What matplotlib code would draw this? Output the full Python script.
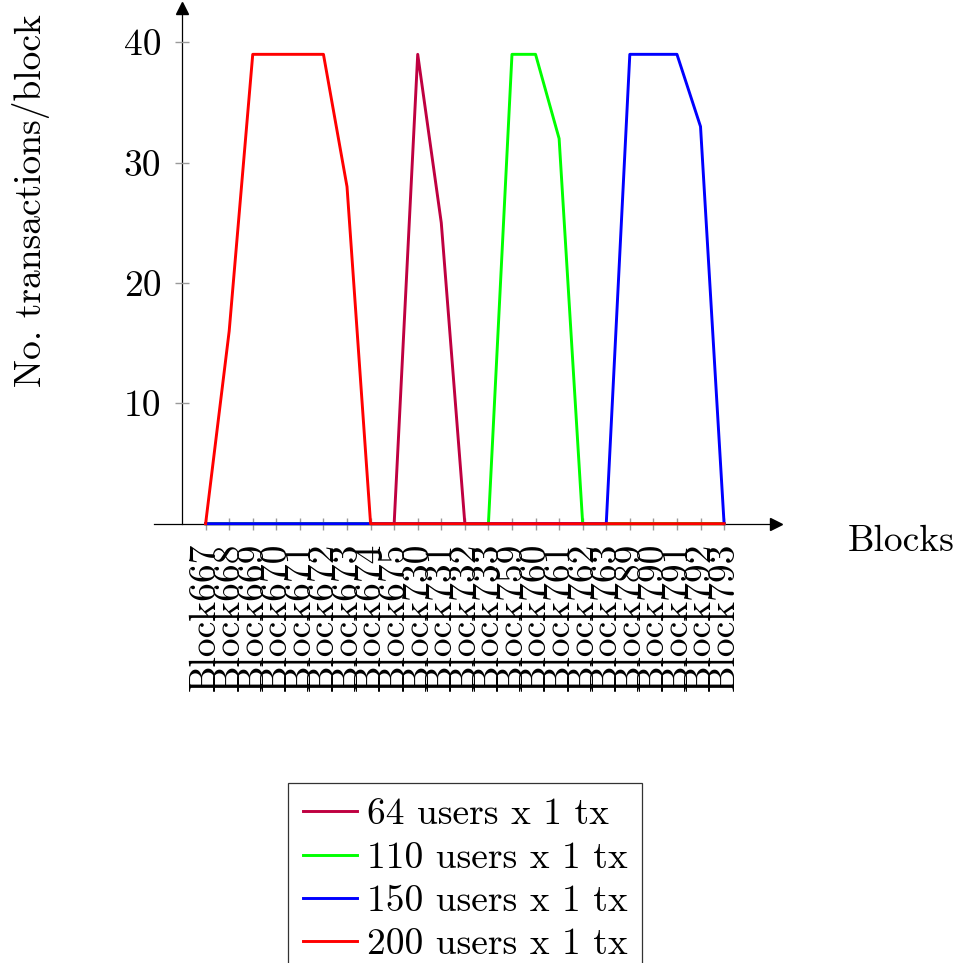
import matplotlib
matplotlib.use("Agg")
import matplotlib.pyplot as plt

plt.rcParams["font.family"] = "serif"
plt.rcParams["font.serif"] = ["cmr10", "DejaVu Serif"]
plt.rcParams["mathtext.fontset"] = "cm"
plt.rcParams["axes.formatter.use_mathtext"] = True

block_labels = [
    "Block667", "Block668", "Block669", "Block670", "Block671", "Block672",
    "Block673", "Block674", "Block675", "Block730", "Block731", "Block732",
    "Block733", "Block759", "Block760", "Block761", "Block762", "Block763",
    "Block789", "Block790", "Block791", "Block792", "Block793",
]
users_64 = [0, 0, 0, 0, 0, 0, 0, 0, 0, 39, 25, 0, 0, 0, 0, 0, 0, 0, 0, 0, 0, 0, 0]
users_110 = [0, 0, 0, 0, 0, 0, 0, 0, 0, 0, 0, 0, 0, 39, 39, 32, 0, 0, 0, 0, 0, 0, 0]
users_150 = [0, 0, 0, 0, 0, 0, 0, 0, 0, 0, 0, 0, 0, 0, 0, 0, 0, 0, 39, 39, 39, 33, 0]
users_200 = [0, 16, 39, 39, 39, 39, 28, 0, 0, 0, 0, 0, 0, 0, 0, 0, 0, 0, 0, 0, 0, 0, 0]

series = [
    ("64 users x 1 tx", users_64, "#bf0040"),
    ("110 users x 1 tx", users_110, "#00ff00"),
    ("150 users x 1 tx", users_150, "#0000ff"),
    ("200 users x 1 tx", users_200, "#ff0000"),
]

FS = 27
W, H = 955, 963
fig = plt.figure(figsize=(W / 100, H / 100), dpi=100)
ax = fig.add_axes([154 / W, 1 - 523.7 / H, 621.7 / W, 515.7 / H])

x = list(range(len(block_labels)))
for label, values, color in series:
    ax.plot(x, values, color=color, lw=2.1, label=label, clip_on=False, zorder=3)

ax.set_xlim(-2.19, 24.19)
ax.set_ylim(0, 42.85)

for side in ["top", "right"]:
    ax.spines[side].set_visible(False)
ax.spines["left"].set_position(("data", -1))
ax.spines["bottom"].set_position(("data", 0))
for side in ["left", "bottom"]:
    ax.spines[side].set_linewidth(0.9)
    ax.spines[side].set_zorder(1)

# arrow heads
ax.plot(1, 0, ">k", transform=ax.get_yaxis_transform(), clip_on=False, ms=8)
ax.plot(-1, 1, "^k", transform=ax.get_xaxis_transform(), clip_on=False, ms=8)

ax.set_xticks(x)
ax.set_xticklabels(block_labels, rotation=90, fontsize=FS)
ax.set_yticks([10, 20, 30, 40])
ax.set_yticklabels(["10", "20", "30", "40"], fontsize=FS)
ax.tick_params(axis="x", direction="inout", length=9, width=1, color="#9a9a9a", pad=9)
ax.tick_params(axis="y", direction="inout", length=10, width=1, color="#9a9a9a", pad=10)

fig.text(31 / W, 1 - 201 / H, "No. transactions/block", rotation=90,
         ha="center", va="center", fontsize=FS)
fig.text(848 / W, 1 - 551 / H, "Blocks", ha="left", va="baseline", fontsize=FS)

leg = fig.legend(loc="upper center", bbox_to_anchor=(465 / W, 1 - 783 / H),
                 fontsize=FS, frameon=True, fancybox=False, edgecolor="black",
                 handlelength=1.45, handletextpad=0.25, labelspacing=0.27,
                 borderpad=0.4, borderaxespad=0)
leg.get_frame().set_linewidth(0.9)

fig.savefig("out.png", dpi=100)
